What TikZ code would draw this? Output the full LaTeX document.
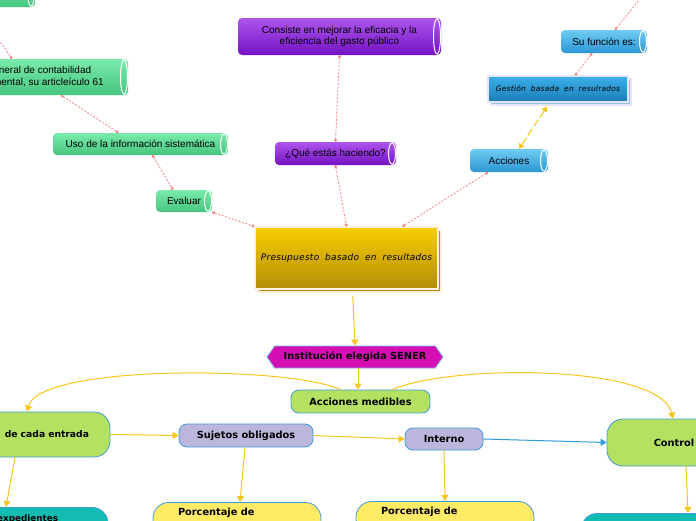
\documentclass[tikz,border=0pt]{standalone}
\usepackage{fontspec}
\setmainfont{Liberation Sans}
\newfontfamily\negrita{DejaVu Sans}
\newfontfamily\mano{DejaVu Sans}[WordSpace=1.9, LetterSpace=3]
\usetikzlibrary{arrows.meta, positioning, calc, shapes.symbols, shadows}

\definecolor{verdeA}{HTML}{7AEAAA}
\definecolor{verdeB}{HTML}{46C680}
\definecolor{moradoA}{HTML}{AE55EC}
\definecolor{moradoB}{HTML}{7412C4}
\definecolor{azulA}{HTML}{70CBF2}
\definecolor{azulB}{HTML}{2B97D4}
\definecolor{oroA}{HTML}{F8CE02}
\definecolor{oroB}{HTML}{B38C08}
\definecolor{gestA}{HTML}{3CB0EA}
\definecolor{gestB}{HTML}{1B7CB6}
\definecolor{magenta1}{HTML}{D60FB4}
\definecolor{bordeazul}{HTML}{3D9BDB}
\definecolor{verdeclaro}{HTML}{B5E163}
\definecolor{lavanda}{HTML}{BCB6DC}
\definecolor{amarillo1}{HTML}{FFEB66}
\definecolor{turquesa}{HTML}{13BCB1}
\definecolor{rojoclaro}{HTML}{F28888}
\definecolor{flechaam}{HTML}{F8C51C}
\definecolor{flechaaz}{HTML}{2E9BDC}

\tikzset{
  tubo/.style={rectangle, rounded corners=4pt, inner sep=0pt, align=center,
    font=\fontsize{10}{11.5}\selectfont,
    path picture={\draw[white, line width=1pt] let \p1=(path picture bounding box.north east),
      \p2=(path picture bounding box.south east) in
      ($(\p1)!0.5!(\p2)+(-4pt,0)$) ellipse [x radius=3.5pt, y radius={0.5*(\y1-\y2)-0.8pt}];}},
  tubover/.style={tubo, top color=verdeA, bottom color=verdeB},
  tubomor/.style={tubo, top color=moradoA, bottom color=moradoB},
  tuboazul/.style={tubo, top color=azulA, bottom color=azulB},
  titulo/.style={rectangle, draw=white!88!orange, line width=1.2pt, top color=oroA, bottom color=oroB,
    general shadow={fill=oroB, draw=white!88!orange, shadow xshift=3pt, shadow yshift=-3pt},
    font=\mano\itshape\fontsize{9}{11}\selectfont},
  caja/.style={rectangle, rounded corners=8pt, draw=bordeazul, line width=0.8pt, inner sep=0pt,
    font=\negrita\bfseries\fontsize{9.8}{11}\selectfont},
  cajagrande/.style={caja, rounded corners=16pt},
  enlace/.style={draw=rojoclaro, line width=0.8pt, dash pattern=on 2pt off 1.6pt,
    {Circle[length=3pt]}-{Circle[length=3pt]}},
  flecha/.style={draw=flechaam, line width=1pt, -{Triangle[length=6pt,width=7pt]}},
}

\begin{document}
\begin{tikzpicture}[x=1pt, y=-1pt]
  \useasboundingbox (0,0) rectangle (696,520);
  \fill[white] (0,0) rectangle (696,520);
  \clip (0,0) rectangle (696,520);

  % parte superior
  \node[tubover, minimum width=150pt, minimum height=30pt] (ant) at (-40,-8) {};
  \node[tubover, minimum width=196pt, minimum height=36pt] (ley) at (30,77)
    {Ley general de contabilidad\\gubernamental, su articleículo 61};
  \node[tubover, minimum width=175pt, minimum height=22pt] (uso) at (140.5,144) {Uso de la información sistemática};
  \node[tubover, minimum width=56pt, minimum height=22pt] (eval) at (184,201) {Evaluar};
  \node[tubomor, minimum width=203pt, minimum height=37pt] (consiste) at (339.5,36.5)
    {Consiste en mejorar la eficacia y la\\eficiencia del gasto público};
  \node[tubomor, minimum width=121pt, minimum height=23pt] (que) at (335.5,153.5) {¿Qué estás haciendo?};
  \node[tuboazul, minimum width=78pt, minimum height=23pt] (acc) at (509,160.5) {Acciones};
  \node[tuboazul, minimum width=86pt, minimum height=23pt] (func) at (604,41.5) {Su función es:};
  \node[titulo, top color=gestA, bottom color=gestB, draw=white!90!blue,
    general shadow={fill=gestB!45!white, draw=white!90!blue, shadow xshift=3pt, shadow yshift=-3pt},
    font=\mano\itshape\fontsize{7.5}{9}\selectfont,
    minimum width=140pt, minimum height=26pt] (gest) at (558,89) {Gestión basada en resulrados};
  \node[titulo, minimum width=183pt, minimum height=62pt] (ppto) at (346.5,258) {Presupuesto basado en resultados};
  \coordinate (arriba) at (644,-6);

  % conectores punteados
  \draw[enlace] ([xshift=17pt]ant.south) -- ([xshift=-18pt]ley.north);
  \draw[enlace] ([xshift=31pt]ley.south) -- ([xshift=-22pt]uso.north);
  \draw[enlace] ([xshift=12pt]uso.south) -- ([xshift=-11pt]eval.north);
  \draw[enlace] (eval.south east) -- (ppto.north west);
  \draw[enlace] (consiste.south) -- (que.north);
  \draw[enlace] (que.south) -- (ppto.north);
  \draw[enlace] ([xshift=-21pt]acc.south) -- ([xshift=56pt]ppto.north);
  \draw[enlace] ([xshift=-12pt]func.south) -- ([xshift=17pt]gest.north);
  \draw[enlace] ([xshift=11pt]func.north) -- (arriba);
  \draw[flechaam, line width=1pt, dash pattern=on 8pt off 3pt,
    {Triangle[length=5pt,width=6pt]}-{Triangle[length=5pt,width=6pt]}]
    ([xshift=-11pt,yshift=-4pt]gest.south) -- ([xshift=10pt]acc.north);

  % parte inferior
  \node[signal, signal to=east and west, signal pointer angle=110, fill=magenta1, draw=bordeazul!70!white,
    line width=0.8pt, inner sep=0pt, minimum width=176pt, minimum height=22pt,
    font=\negrita\bfseries\fontsize{9.8}{11}\selectfont] (inst) at (355,357) {Institución elegida SENER};
  \node[caja, fill=verdeclaro, minimum width=139pt, minimum height=23pt] (am) at (360.5,401.5) {Acciones medibles};
  \node[cajagrande, fill=verdeclaro, minimum height=45pt, text width=158pt, align=right, inner xsep=21pt,
    font=\negrita\bfseries\fontsize{9.2}{11}\selectfont] (ent) at (10,434.5) {de cada entrada};
  \node[caja, fill=lavanda, minimum width=134pt, minimum height=23pt] (suj) at (246,435.5) {Sujetos obligados};
  \node[caja, fill=lavanda, minimum width=78pt, minimum height=22pt] (int) at (444,439) {Interno};
  \node[cajagrande, fill=verdeclaro, minimum width=134pt, minimum height=47pt] (ctrl) at (674,442.5) {Control};
  \node[cajagrande, fill=turquesa, anchor=north, minimum width=200pt, text width=100pt, align=right,
    inner ysep=7pt, font=\negrita\bfseries\fontsize{8.8}{11}\selectfont] (exp) at (8,507) {expedientes\\ \strut};
  \node[cajagrande, fill=amarillo1, anchor=north, inner xsep=25pt, inner ysep=6pt, text width=118pt,
    align=left] (por1) at (237,502) {Porcentaje de\\ \strut};
  \node[cajagrande, fill=amarillo1, anchor=north, inner xsep=25pt, inner ysep=6pt, text width=128pt,
    align=left] (por2) at (445,501) {Porcentaje de\\ \strut};
  \node[cajagrande, fill=turquesa, anchor=north west, minimum width=200pt, minimum height=40pt] (fin) at (581,513) {};

  % flechas
  \draw[flecha, shorten <=6pt] ([xshift=6pt]ppto.south) -- (inst.north);
  \draw[flecha] ([xshift=3pt]inst.south) -- ([xshift=-2.5pt]am.north);
  \draw[flecha] ([xshift=-20pt]am.north) .. controls (290,366) and (40,364) .. ([xshift=17pt]ent.north);
  \draw[flecha] ([xshift=32pt]am.north) .. controls (450,364) and (660,364) .. ([xshift=-1pt]ctrl.north);
  \draw[flecha] (ent.east) -- (suj.west);
  \draw[flecha] (suj.east) -- (int.west);
  \draw[flecha, draw=flechaaz] (int.east) -- (ctrl.west);
  \draw[flecha] ([xshift=5pt]ent.south) -- ([xshift=-2pt]exp.north);
  \draw[flecha] ([xshift=-1pt]suj.south) -- ([xshift=3pt]por1.north);
  \draw[flecha] (int.south) -- (por2.north);
  \draw[flecha] ([xshift=12pt]ctrl.south) -- ([xshift=107pt]fin.north west);
\end{tikzpicture}
\end{document}
